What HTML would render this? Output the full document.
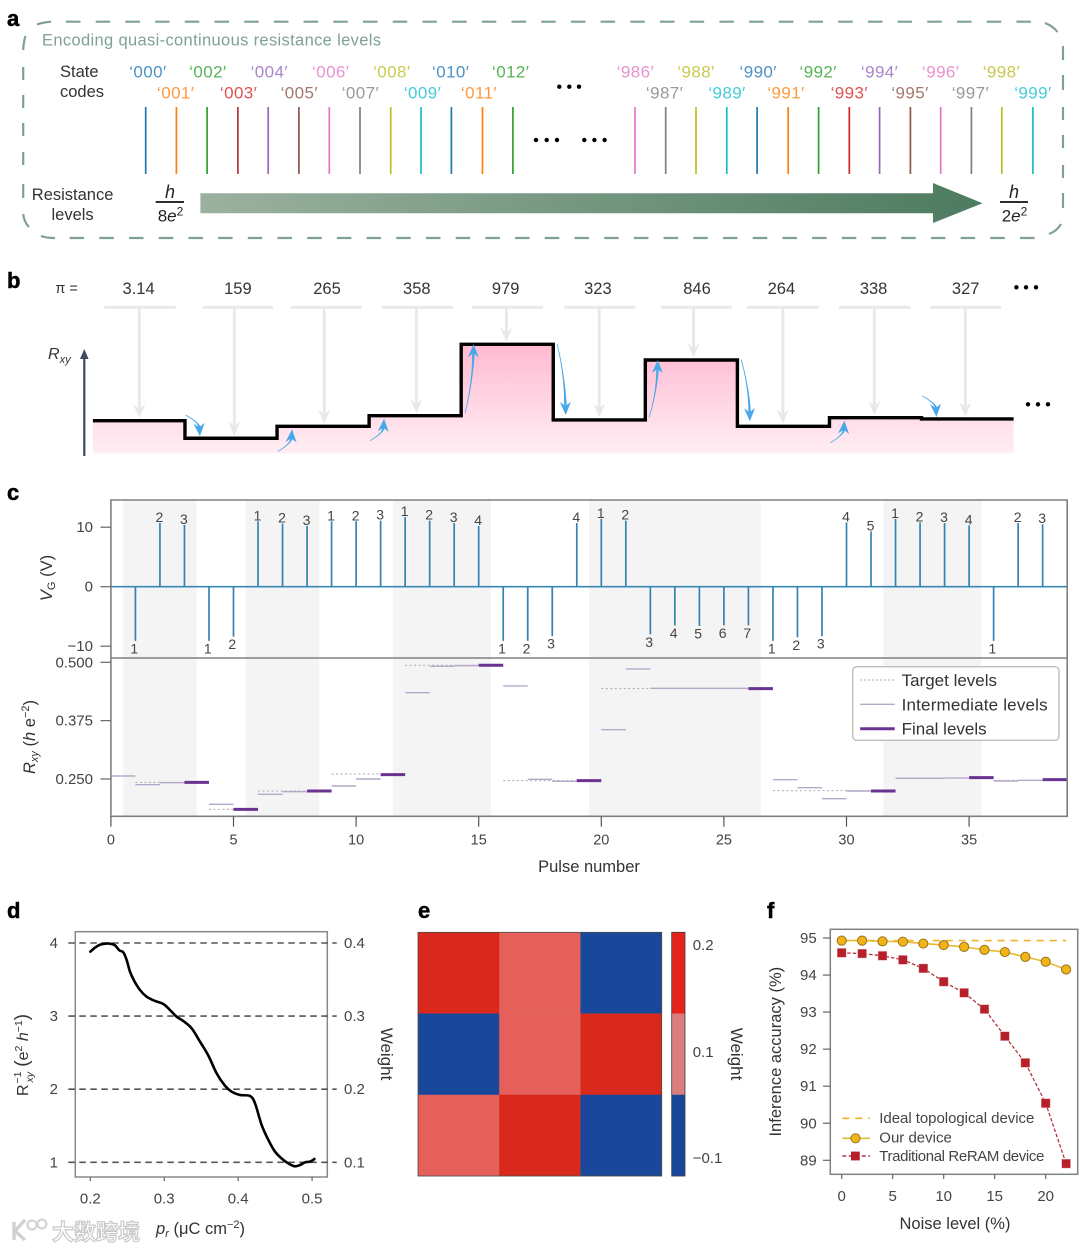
<!DOCTYPE html>
<html lang="en">
<head>
<meta charset="utf-8">
<title>Quasi-continuous resistance levels figure</title>
<style>
html,body{margin:0;padding:0;background:#fff;}
svg{display:block;font-family:"Liberation Sans","Noto Sans CJK SC",sans-serif;}
.pl{font-size:22px;font-weight:bold;fill:#000;stroke:#000;stroke-width:.5;}
.code{font-size:17px;text-anchor:middle;fill-opacity:.8;letter-spacing:.4px;}
.lab{font-size:16.5px;fill:#333;}
.num{font-size:16.5px;fill:#333;text-anchor:middle;}
</style>
</head>
<body>
<svg id="fig" xmlns="http://www.w3.org/2000/svg" width="1080" height="1251" viewBox="0 0 1080 1251">
<defs>
<linearGradient id="arrowGrad" x1="0" x2="1" y1="0" y2="0"><stop offset="0" stop-color="#9bb19f"/><stop offset="1" stop-color="#4d7b60"/></linearGradient>
<linearGradient id="pinkGrad" gradientUnits="userSpaceOnUse" x1="0" x2="0" y1="344" y2="453"><stop offset="0" stop-color="#ffb9d1"/><stop offset="1" stop-color="#ffeef4"/></linearGradient>
</defs>
<rect x="0" y="0" width="1080" height="1251" fill="#fff"/>

<!-- PANEL A -->
<g id="panelA">
<text class="pl" x="7" y="26">a</text>
<g fill="none" stroke="#7fa193" stroke-width="2.2">
<path d="M66 21.7H1031" stroke-dasharray="14.5 15.2"/>
<path d="M69.6 238H1036" stroke-dasharray="14.5 15.2"/>
<path d="M37 24.5Q42 22.5 51 21.7"/>
<path d="M23.2 50Q23.5 42 25.5 36"/>
<path d="M1045 23Q1053 26 1057.5 32"/>
<path d="M1061 224Q1057 231 1049 234"/>
<path d="M23.2 214Q24 222 29 227"/>
<path d="M41 236Q46 238 55 238"/>
<path d="M23.2 67V80M23.2 95V108M23.2 123V136M23.2 152V165M23.2 184V198"/>
<path d="M1063 46V60M1063 75V90M1063 107V120M1063 135V148M1063 165V178M1063 193V208"/>
</g>
<text x="42" y="45.5" font-size="16.5" fill="#7fa193" textLength="339">Encoding quasi-continuous resistance levels</text>
<text class="lab" x="60" y="77">State</text>
<text class="lab" x="60" y="97">codes</text>
<text class="lab" x="72.6" y="200" text-anchor="middle">Resistance</text>
<text class="lab" x="72.6" y="220" text-anchor="middle">levels</text>

<g class="codes">
<text class="code" x="147.9" y="77.5" fill="#1f77b4">‘000′</text>
<text class="code" x="175.7" y="98.5" fill="#ff7f0e">‘001′</text>
<text class="code" x="207.9" y="77.5" fill="#2ca02c">‘002′</text>
<text class="code" x="238.6" y="98.5" fill="#d62728">‘003′</text>
<text class="code" x="269.3" y="77.5" fill="#9467bd">‘004′</text>
<text class="code" x="299.3" y="98.5" fill="#8c564b">‘005′</text>
<text class="code" x="330.7" y="77.5" fill="#e377c2">‘006′</text>
<text class="code" x="360.4" y="98.5" fill="#7f7f7f">‘007′</text>
<text class="code" x="391.8" y="77.5" fill="#bcbd22">‘008′</text>
<text class="code" x="422.5" y="98.5" fill="#17becf">‘009′</text>
<text class="code" x="450.7" y="77.5" fill="#1f77b4">‘010′</text>
<text class="code" x="479" y="98.5" fill="#ff7f0e">‘011′</text>
<text class="code" x="510.7" y="77.5" fill="#2ca02c">‘012′</text>
<text class="code" x="635.4" y="77.5" fill="#e377c2">‘986′</text>
<text class="code" x="664.6" y="98.5" fill="#7f7f7f">‘987′</text>
<text class="code" x="696" y="77.5" fill="#bcbd22">‘988′</text>
<text class="code" x="727" y="98.5" fill="#17becf">‘989′</text>
<text class="code" x="758.2" y="77.5" fill="#1f77b4">‘990′</text>
<text class="code" x="786" y="98.5" fill="#ff7f0e">‘991′</text>
<text class="code" x="818.2" y="77.5" fill="#2ca02c">‘992′</text>
<text class="code" x="849.3" y="98.5" fill="#d62728">‘993′</text>
<text class="code" x="879.6" y="77.5" fill="#9467bd">‘994′</text>
<text class="code" x="910" y="98.5" fill="#8c564b">‘995′</text>
<text class="code" x="940.7" y="77.5" fill="#e377c2">‘996′</text>
<text class="code" x="970.4" y="98.5" fill="#7f7f7f">‘997′</text>
<text class="code" x="1001.4" y="77.5" fill="#bcbd22">‘998′</text>
<text class="code" x="1032.9" y="98.5" fill="#17becf">‘999′</text>
</g>

<g stroke-width="1.7">
<line x1="145.7" x2="145.7" y1="107" y2="174" stroke="#1f77b4"/>
<line x1="176.4" x2="176.4" y1="107" y2="174" stroke="#ff7f0e"/>
<line x1="207.1" x2="207.1" y1="107" y2="174" stroke="#2ca02c"/>
<line x1="237.9" x2="237.9" y1="107" y2="174" stroke="#b5353a"/>
<line x1="268.2" x2="268.2" y1="107" y2="174" stroke="#9467bd"/>
<line x1="298.9" x2="298.9" y1="107" y2="174" stroke="#8c564b"/>
<line x1="329.3" x2="329.3" y1="107" y2="174" stroke="#e377c2"/>
<line x1="360" x2="360" y1="107" y2="174" stroke="#7f7f7f"/>
<line x1="390.7" x2="390.7" y1="107" y2="174" stroke="#bcbd22"/>
<line x1="421" x2="421" y1="107" y2="174" stroke="#17becf"/>
<line x1="451.4" x2="451.4" y1="107" y2="174" stroke="#1f77b4"/>
<line x1="482.5" x2="482.5" y1="107" y2="174" stroke="#ff7f0e"/>
<line x1="512.9" x2="512.9" y1="107" y2="174" stroke="#2ca02c"/>
<line x1="635" x2="635" y1="107" y2="174" stroke="#e377c2"/>
<line x1="665.7" x2="665.7" y1="107" y2="174" stroke="#7f7f7f"/>
<line x1="696" x2="696" y1="107" y2="174" stroke="#bcbd22"/>
<line x1="726.8" x2="726.8" y1="107" y2="174" stroke="#17becf"/>
<line x1="757.1" x2="757.1" y1="107" y2="174" stroke="#1f77b4"/>
<line x1="788.2" x2="788.2" y1="107" y2="174" stroke="#ff7f0e"/>
<line x1="818.6" x2="818.6" y1="107" y2="174" stroke="#2ca02c"/>
<line x1="849.3" x2="849.3" y1="107" y2="174" stroke="#d62728"/>
<line x1="879.6" x2="879.6" y1="107" y2="174" stroke="#9467bd"/>
<line x1="910.4" x2="910.4" y1="107" y2="174" stroke="#8c564b"/>
<line x1="940.7" x2="940.7" y1="107" y2="174" stroke="#e377c2"/>
<line x1="971.4" x2="971.4" y1="107" y2="174" stroke="#7f7f7f"/>
<line x1="1001.8" x2="1001.8" y1="107" y2="174" stroke="#bcbd22"/>
<line x1="1032.9" x2="1032.9" y1="107" y2="174" stroke="#17becf"/>
</g>

<g fill="#000">
<circle cx="559.3" cy="86.7" r="2.2"/><circle cx="569.3" cy="86.7" r="2.2"/><circle cx="579" cy="86.7" r="2.2"/>
<circle cx="536" cy="140" r="2.2"/><circle cx="546.7" cy="140" r="2.2"/><circle cx="557" cy="140" r="2.2"/>
<circle cx="584.3" cy="140" r="2.2"/><circle cx="594.4" cy="140" r="2.2"/><circle cx="604.6" cy="140" r="2.2"/>
</g>
<path d="M200.4 193.3H933V183L982.5 203.3L933 223V213.3H200.4Z" fill="url(#arrowGrad)"/>
<text x="170" y="198" font-size="18" font-style="italic" text-anchor="middle" fill="#222">h</text>
<line x1="155.7" x2="184" y1="202" y2="202" stroke="#111" stroke-width="1.8"/>
<text x="170.5" y="221.5" font-size="17" text-anchor="middle" fill="#222">8<tspan font-style="italic">e</tspan><tspan font-size="12" dy="-6">2</tspan></text>
<text x="1014" y="198" font-size="18" font-style="italic" text-anchor="middle" fill="#222">h</text>
<line x1="1000" x2="1028" y1="202" y2="202" stroke="#111" stroke-width="1.8"/>
<text x="1014.5" y="221.5" font-size="17" text-anchor="middle" fill="#222">2<tspan font-style="italic">e</tspan><tspan font-size="12" dy="-6">2</tspan></text>
</g>

<!-- PANEL B -->
<g id="panelB">
<text class="pl" x="7" y="288">b</text>
<text x="55.4" y="293" font-size="14.5" fill="#333">π =</text>
<text class="num" x="138.6" y="294">3.14</text>
<text class="num" x="237.9" y="294">159</text>
<text class="num" x="327" y="294">265</text>
<text class="num" x="416.8" y="294">358</text>
<text class="num" x="505.7" y="294">979</text>
<text class="num" x="597.9" y="294">323</text>
<text class="num" x="697" y="294">846</text>
<text class="num" x="781.4" y="294">264</text>
<text class="num" x="873.6" y="294">338</text>
<text class="num" x="965.7" y="294">327</text>
<path d="M104.3 307.3H175.7M202.5 307.3H273.2M290.4 307.3H361.8M382 307.3H452.9M471.8 307.3H542.9M564 307.3H635.4M661 307.3H731.8M747 307.3H818.6M839 307.3H910.4M930 307.3H1001.4" stroke="#e9e9e9" stroke-width="2.8" fill="none"/>
<g id="stepArea"></g>
<line x1="84.3" x2="84.3" y1="456" y2="356" stroke="#3e4a5e" stroke-width="2.2"/>
<path d="M84.3 349L80 359H88.6Z" fill="#3e4a5e"/>
<text x="48" y="359" font-size="16" font-style="italic" fill="#333">R<tspan font-size="11" dy="4">xy</tspan></text>
<g fill="#000">
<circle cx="1016.4" cy="287.3" r="2.2"/><circle cx="1026" cy="287.3" r="2.2"/><circle cx="1036" cy="287.3" r="2.2"/>
<circle cx="1028" cy="404.3" r="2.2"/><circle cx="1038" cy="404.3" r="2.2"/><circle cx="1048" cy="404.3" r="2.2"/>
</g>
</g>

<!-- PANEL C -->
<g id="panelC">
<text class="pl" x="7" y="500">c</text>
<g id="cBands"></g>
<g id="cMarks"></g>
<path d="M110.9 500H1067.2V816.3H110.9Z" fill="none" stroke="#808080" stroke-width="1.6"/>
<line x1="110.9" x2="1067.2" y1="658" y2="658" stroke="#808080" stroke-width="1.6"/>
<g id="cAxes"></g>
<text transform="translate(52,578) rotate(-90)" font-size="16.5" text-anchor="middle" fill="#333"><tspan font-style="italic">V</tspan><tspan font-size="11" dy="3">G</tspan><tspan dy="-3"> (V)</tspan></text>
<text transform="translate(35,737) rotate(-90)" font-size="16.5" text-anchor="middle" fill="#333"><tspan font-style="italic">R</tspan><tspan font-size="11" font-style="italic" dy="3">xy</tspan><tspan dy="-3"> (</tspan><tspan font-style="italic">h</tspan> e<tspan font-size="11" dy="-6">−2</tspan><tspan dy="6">)</tspan></text>
<text x="589" y="872" font-size="16.5" text-anchor="middle" fill="#333">Pulse number</text>
<g>
<rect x="852.7" y="666.7" width="206.3" height="73.6" rx="4" fill="#fff" stroke="#bdbdbd" stroke-width="1.4"/>
<line x1="860.2" x2="894.7" y1="680" y2="680" stroke="#a9a9b0" stroke-width="1" stroke-dasharray="2 2"/>
<line x1="860.2" x2="894.7" y1="704.3" y2="704.3" stroke="#b3a9c9" stroke-width="1.4"/>
<line x1="860.2" x2="894.7" y1="728.7" y2="728.7" stroke="#6a3291" stroke-width="3"/>
<text x="901.6" y="686" font-size="17" fill="#333">Target levels</text>
<text x="901.6" y="710.3" font-size="17" fill="#333" textLength="146">Intermediate levels</text>
<text x="901.6" y="734.7" font-size="17" fill="#333">Final levels</text>
</g>
</g>

<!-- PANEL D -->
<g id="panelD">
<text class="pl" x="7" y="918">d</text>
<rect x="75.3" y="931.7" width="252" height="245.3" fill="none" stroke="#888" stroke-width="1.5"/>
<g id="dAxes"></g>
<path id="dCurve" fill="none" stroke="#000" stroke-width="2.6" stroke-linejoin="round" stroke-linecap="round"/>
<text transform="translate(28,1055) rotate(-90)" font-size="16" text-anchor="middle" fill="#333">R<tspan font-size="10.5" dx="1" dy="-7">−1</tspan><tspan font-size="10.5" font-style="italic" dx="-11" dy="12">xy</tspan><tspan dy="-5" font-size="19"> (</tspan>e<tspan font-size="10.5" dy="-6">2</tspan><tspan dy="6" font-style="italic"> h</tspan><tspan font-size="10.5" dy="-6">−1</tspan><tspan dy="6" font-size="19">)</tspan></text>
<text transform="translate(381,1054) rotate(90)" font-size="17" text-anchor="middle" fill="#333">Weight</text>
<text x="156" y="1234" font-size="16.5" fill="#333"><tspan font-style="italic">p</tspan><tspan font-size="11" font-style="italic" dy="3">r</tspan><tspan dy="-3"> (μC cm</tspan><tspan font-size="11" dy="-6">−2</tspan><tspan dy="6">)</tspan></text>
<g opacity=".8">
<path d="M14 1222V1240M25 1220L15 1231L25 1240" fill="none" stroke="#c6c6c6" stroke-width="3.4"/>
<circle cx="32" cy="1225" r="4.5" fill="none" stroke="#c6c6c6" stroke-width="2"/>
<circle cx="42" cy="1224" r="4.5" fill="none" stroke="#c6c6c6" stroke-width="2"/>
<text x="52" y="1240" font-size="22" font-weight="bold" fill="#fff" stroke="#bdbdbd" stroke-width="1.2">大数跨境</text>
</g>
</g>

<!-- PANEL E -->
<g id="panelE">
<text class="pl" x="418" y="918">e</text>
<g id="eCells"></g>
<rect x="418" y="932.3" width="243.7" height="243.7" fill="none" stroke="#4a4a4a" stroke-width=".8"/>
<g id="eBar"></g>
<rect x="671.7" y="932.3" width="13.3" height="243.7" fill="none" stroke="#3a3a4a" stroke-width=".8"/>
<text transform="translate(731,1054) rotate(90)" font-size="17" text-anchor="middle" fill="#333">Weight</text>
</g>

<!-- PANEL F -->
<g id="panelF">
<text class="pl" x="767" y="918">f</text>
<rect x="830.3" y="929.3" width="247.4" height="245" fill="none" stroke="#808080" stroke-width="1.5"/>
<g id="fAxes"></g>
<g id="fSeries"></g>
<g>
<line x1="842.3" x2="870" y1="1118.3" y2="1118.3" stroke="#f0b323" stroke-width="1.6" stroke-dasharray="7 6"/>
<line x1="842.3" x2="870" y1="1138.3" y2="1138.3" stroke="#e8b830" stroke-width="1.6"/>
<circle cx="855.5" cy="1138.3" r="4.6" fill="#f1b317" stroke="#96761c" stroke-width="1"/>
<line x1="842.3" x2="870" y1="1156" y2="1156" stroke="#b5333a" stroke-width="1.4" stroke-dasharray="4 2.5"/>
<rect x="851" y="1151.6" width="8.8" height="8.8" fill="#b5202a"/>
<text x="879.3" y="1123" font-size="15" fill="#444" textLength="155">Ideal topological device</text>
<text x="879.3" y="1142.5" font-size="15" fill="#444">Our device</text>
<text x="879.3" y="1161" font-size="15" fill="#444" textLength="165">Traditional ReRAM device</text>
</g>
<text transform="translate(781,1051.7) rotate(-90)" font-size="16.5" text-anchor="middle" fill="#333">Inference accuracy (%)</text>
<text x="955" y="1229" font-size="16.5" text-anchor="middle" fill="#333">Noise level (%)</text>
</g>
</svg>

<script>
// ---------- Panel b data ----------
const stepLevels = [0.299, 0.138, 0.248, 0.345, 1.0, 0.306, 0.856, 0.248, 0.327, 0.315];
const arrowSteps = [0.504, 1.536, 2.513, 3.514, 4.491, 5.5, 6.524, 7.494, 8.487, 9.476];

// ---------- Panel c data ----------
const pulseNumbers = [1,2,3,4,5,6,7,8,9,10,11,12,13,14,15,16,17,18,19,20,21,22,23,24,25,26,27,28,29,30,31,32,33,34,35,36,37,38];
const pulseVoltages = [-9.1,10.7,10.4,-9.1,-8.4,11,10.6,10.2,11,11,11.1,11.7,11.1,10.7,10.2,-9.1,-9.1,-8.3,10.7,11.4,11.1,-8,-6.5,-6.6,-6.5,-6.5,-9.1,-8.5,-8.3,10.8,9.3,11.4,10.8,10.7,10.3,-9.1,10.7,10.5];
const pulseLabels = ['1','2','3','1','2','1','2','3','1','2','3','1','2','3','4','1','2','3','4','1','2','3','4','5','6','7','1','2','3','4','5','1','2','3','4','1','2','3'];
const bandStarts = [0.5, 5.5, 11.5, 19.5, 31.5];
const bandEnds = [3.5, 8.5, 15.5, 26.5, 35.5];
const intermediatePulses = [0,1,2,4,6,7,9,10,12,13,14,16,17,18,20,21,22,23,24,25,27,28,29,30,32,33,34,36,37];
const intermediateValues = [0.2564,0.2379,0.2421,0.1957,0.2171,0.2229,0.235,0.25,0.435,0.4914,0.4929,0.4493,0.2493,0.245,0.3557,0.4857,0.4443,0.4443,0.4443,0.4443,0.2486,0.2314,0.2079,0.2243,0.2514,0.2514,0.2521,0.2457,0.2471];
const finalPulses = [3,5,8,11,15,19,26,31,35,38];
const finalValues = [0.2429,0.185,0.2243,0.2593,0.4936,0.2464,0.4436,0.2243,0.2529,0.2486];
const targetStarts = [1,4,6,9,12,16,20,27,32,36];
const targetEnds = [3,5,8,11,15,19,26,31,35,38];
const targetValues = [0.2429,0.185,0.2243,0.2607,0.4936,0.2464,0.4436,0.2250,0.2521,0.2471];
const vgTicks = [10,0,-10];
const vgTickLabels = ['10','0','−10'];
const rxyTicks = [0.5,0.375,0.25];
const rxyTickLabels = ['0.500','0.375','0.250'];
const pulseTicks = [0,5,10,15,20,25,30,35];

// ---------- Panel d data ----------
const polarization = [0.2,0.2063,0.2131,0.2198,0.2266,0.2334,0.2392,0.2447,0.2492,0.2537,0.2595,0.2672,0.2762,0.2875,0.2988,0.3078,0.3168,0.3258,0.3371,0.3484,0.3597,0.3709,0.3822,0.3912,0.4025,0.4161,0.4228,0.4318,0.4409,0.4499,0.4612,0.4702,0.4769,0.4837,0.4905,0.4973,0.5031];
const inverseRxy = [3.881,3.936,3.977,3.991,3.991,3.968,3.9,3.872,3.767,3.608,3.48,3.357,3.266,3.207,3.166,3.083,2.992,2.933,2.833,2.65,2.459,2.217,2.048,1.966,1.921,1.907,1.807,1.51,1.305,1.145,1.031,0.972,0.945,0.963,1.0,1.009,1.045];
const dYTicks = [4,3,2,1];
const dWeightLabels = ['0.4','0.3','0.2','0.1'];
const dXTicks = [0.2,0.3,0.4,0.5];
const dXLabels = ['0.2','0.3','0.4','0.5'];

// ---------- Panel e data ----------
const weightRow1 = [0.2,0.1,-0.1];
const weightRow2 = [-0.1,0.1,0.2];
const weightRow3 = [0.1,0.2,-0.1];
const colorbarLevels = [0.2,0.1,-0.1];
const colorbarLabels = ['0.2','0.1','−0.1'];

// ---------- Panel f data ----------
const noiseLevels = [0,2,4,6,8,10,12,14,16,18,20,22];
const ourDeviceAcc = [94.93,94.93,94.91,94.90,94.85,94.81,94.76,94.68,94.62,94.49,94.36,94.15];
const reramAcc = [94.6,94.58,94.52,94.41,94.18,93.82,93.52,93.08,92.35,91.63,90.54,88.91];
const idealAcc = [94.93,94.93];
const idealNoise = [0,22];
const fYTicks = [95,94,93,92,91,90,89];
const fXTicks = [0,5,10,15,20];

// ---------- Helpers ----------
const NS = 'http://www.w3.org/2000/svg';
function mk(tag, attrs, parent){
  const n = document.createElementNS(NS, tag);
  for (const k in attrs) n.setAttribute(k, attrs[k]);
  parent.appendChild(n);
  return n;
}
function smoothPath(pts){
  let d = 'M' + pts[0][0] + ' ' + pts[0][1];
  for (let i = 0; i < pts.length - 1; i++){
    const p0 = pts[Math.max(i-1,0)], p1 = pts[i], p2 = pts[i+1], p3 = pts[Math.min(i+2,pts.length-1)];
    const c1x = p1[0] + (p2[0]-p0[0])/6, c1y = p1[1] + (p2[1]-p0[1])/6;
    const c2x = p2[0] - (p3[0]-p1[0])/6, c2y = p2[1] - (p3[1]-p1[1])/6;
    d += 'C' + c1x + ' ' + c1y + ' ' + c2x + ' ' + c2y + ' ' + p2[0] + ' ' + p2[1];
  }
  return d;
}

// ---------- Panel b drawing ----------
const xB = s => 92.9 + s * 92.07;
const yB = v => 453.3 - v * 109;
const stepArea = document.getElementById('stepArea');
let fillD = 'M' + xB(0) + ' 453.3';
let lineD = '';
stepLevels.forEach((v,i) => {
  fillD += 'L' + xB(i) + ' ' + yB(v) + 'L' + xB(i+1) + ' ' + yB(v);
  lineD += (i ? 'L' : 'M') + xB(i) + ' ' + yB(v) + 'L' + xB(i+1) + ' ' + yB(v);
});
fillD += 'L' + xB(stepLevels.length) + ' 453.3Z';
const stepFill = mk('path',{d:fillD,fill:'url(#pinkGrad)'},stepArea);


arrowSteps.forEach((s,i) => {
  const x = xB(s), tip = yB(stepLevels[i]) - 2.5;
  const shaft = mk('line',{x1:x,x2:x,y1:307,y2:tip-6,stroke:'#e8e8e8','stroke-width':2.8},stepArea);
  
  
  const head = mk('path',{d:'M'+x+' '+tip+'L'+(x-6)+' '+(tip-14)+'L'+x+' '+(tip-9.5)+'L'+(x+6)+' '+(tip-14)+'Z',fill:'#e8e8e8'},stepArea);
  
  
});
const stepLine = mk('path',{d:lineD,fill:'none',stroke:'#000','stroke-width':3.4,'stroke-linejoin':'miter'},stepArea);


for (let i = 1; i < stepLevels.length; i++){
  const prev = yB(stepLevels[i-1]), next = yB(stepLevels[i]), e = xB(i);
  const big = Math.abs(next-prev) > 30, up = next < prev;
  let sy, ey;
  if (up){ sy = big ? prev-3 : next+25; ey = next + (big ? 0 : 3); }
  else { sy = big ? prev : next-23; ey = next - (big ? 5 : 2); }
  const sx = e + (big ? 4 : 1), ex = e + (big ? 12.5 : 15);
  const cx = ex - 1;
  const cy = sy + (ey - sy) * (big ? 0.45 : 0.35);
  const ang = Math.atan2(ey-cy, ex-cx);
  const hx = Math.cos(ang), hy = Math.sin(ang);
  const neckX = ex - hx*9, neckY = ey - hy*9;
  const wx = -hy*0.9, wy = hx*0.9;
  const curve = mk('path',{d:'M'+sx+' '+sy+'Q'+cx+' '+cy+' '+(neckX+wx)+' '+(neckY+wy)+'L'+(neckX-wx)+' '+(neckY-wy)+'Q'+cx+' '+cy+' '+sx+' '+sy+'Z',fill:'#4aa8ea',stroke:'#4aa8ea','stroke-width':0.8,'stroke-linejoin':'round'},stepArea);
  
  
  const L = 13, W = 5.5, N = 9;
  const p1 = (ex-hx*L-hy*W)+' '+(ey-hy*L+hx*W);
  const p2 = (ex-hx*N)+' '+(ey-hy*N);
  const p3 = (ex-hx*L+hy*W)+' '+(ey-hy*L-hx*W);
  const ah = mk('path',{d:'M'+ex+' '+ey+'L'+p1+'L'+p2+'L'+p3+'Z',fill:'#4aa8ea'},stepArea);
  
  
}

// ---------- Panel c drawing ----------
const xC = p => 110.9 + p * 24.52;
const yV = v => 586.7 - v * 5.95;
const yR = r => 779 - (r - 0.25) * 466.8;
const cBands = document.getElementById('cBands');
const cMarks = document.getElementById('cMarks');
const cAxes = document.getElementById('cAxes');
bandStarts.forEach((s,i) => {
  const b = mk('rect',{x:xC(s),y:500,width:xC(bandEnds[i])-xC(s),height:316.3,fill:'#f4f4f5'},cBands);
  
  
});
const zero = mk('line',{x1:xC(0),x2:xC(39),y1:yV(0),y2:yV(0),stroke:'#3a86b5','stroke-width':1.6},cMarks);


pulseNumbers.forEach((n,i) => {
  const v = pulseVoltages[i];
  const stem = mk('line',{x1:xC(n),x2:xC(n),y1:yV(0),y2:yV(v),stroke:'#3583b2','stroke-width':1.7},cMarks);
  
  
  const t = mk('text',{x:xC(n)-(v<0?1.2:0.5),y:yV(v)+(v>0?-1:12.5),'font-size':14,'text-anchor':'middle',fill:'#444'},cMarks);
  t.textContent = pulseLabels[i];
  
  
});
targetStarts.forEach((s,i) => {
  const l = mk('line',{x1:xC(s),x2:xC(targetEnds[i]),y1:yR(targetValues[i]),y2:yR(targetValues[i]),stroke:'#a9a9b0','stroke-width':1,'stroke-dasharray':'2 2.5'},cMarks);
  
  
});
intermediatePulses.forEach((p,i) => {
  const l = mk('line',{x1:xC(p),x2:xC(p+1),y1:yR(intermediateValues[i]),y2:yR(intermediateValues[i]),stroke:'#b3a9c9','stroke-width':1.4},cMarks);
  
  
});
finalPulses.forEach((p,i) => {
  const l = mk('line',{x1:xC(p),x2:xC(p+1),y1:yR(finalValues[i]),y2:yR(finalValues[i]),stroke:'#6a3291','stroke-width':3},cMarks);
  
  
});
vgTicks.forEach((v,i) => {
  const tk = mk('line',{x1:100.5,x2:110.9,y1:yV(v),y2:yV(v),stroke:'#666','stroke-width':1.2},cAxes);
  
  
  const t = mk('text',{x:93,y:yV(v)+5,'font-size':15,'text-anchor':'end',fill:'#444'},cAxes);
  t.textContent = vgTickLabels[i];
  
  
});
rxyTicks.forEach((r,i) => {
  const tk = mk('line',{x1:100.5,x2:110.9,y1:yR(r),y2:yR(r),stroke:'#666','stroke-width':1.2},cAxes);
  
  
  const t = mk('text',{x:93,y:yR(r)+5,'font-size':15,'text-anchor':'end',fill:'#444'},cAxes);
  t.textContent = rxyTickLabels[i];
  
  
});
pulseTicks.forEach(p => {
  const tk = mk('line',{x1:xC(p),x2:xC(p),y1:816.3,y2:826.7,stroke:'#555','stroke-width':1.2},cAxes);
  
  
  const t = mk('text',{x:xC(p),y:844.5,'font-size':14.5,'text-anchor':'middle',fill:'#444'},cAxes);
  t.textContent = String(p);
  
  
});

// ---------- Panel d drawing ----------
const xD = p => 90.3 + (p - 0.2) * 739.3;
const yD = r => 1162.3 - (r - 1) * 73.1;
const dAxes = document.getElementById('dAxes');
dYTicks.forEach((r,i) => {
  const g = mk('line',{x1:68.3,x2:336.7,y1:yD(r),y2:yD(r),stroke:'#555','stroke-width':1.6,'stroke-dasharray':'6.5 4.5'},dAxes);
  
  
  const l = mk('text',{x:58,y:yD(r)+5,'font-size':15,'text-anchor':'end',fill:'#444'},dAxes);
  l.textContent = String(r);
  
  
  const w = mk('text',{x:344,y:yD(r)+5,'font-size':15,fill:'#444'},dAxes);
  w.textContent = dWeightLabels[i];
  
  
});
dXTicks.forEach((p,i) => {
  const tk = mk('line',{x1:xD(p),x2:xD(p),y1:1177,y2:1181,stroke:'#666','stroke-width':1.2},dAxes);
  
  
  const t = mk('text',{x:xD(p),y:1203.5,'font-size':15,'text-anchor':'middle',fill:'#444'},dAxes);
  t.textContent = dXLabels[i];
  
  
});
document.getElementById('dCurve').setAttribute('d', smoothPath(polarization.map((p,i) => [xD(p), yD(inverseRxy[i])])));

// ---------- Panel e drawing ----------
const eCells = document.getElementById('eCells');
const eBar = document.getElementById('eBar');
const cellColor = v => v > 0.15 ? '#d9291c' : (v > 0 ? '#e5605a' : '#19489a');
const barColor = v => v > 0.15 ? '#e5231b' : (v > 0 ? '#da7e7c' : '#18479a');
const xE = c => 418 + c * 81.23;
const yE = r => 932.3 + r * 81.23;
[weightRow1, weightRow2, weightRow3].forEach((row,r) => {
  row.forEach((v,c) => {
    const cell = mk('rect',{x:xE(c),y:yE(r),width:81.5,height:81.5,fill:cellColor(v)},eCells);
    
    
  });
});
colorbarLevels.forEach((v,i) => {
  const seg = mk('rect',{x:671.7,y:yE(i),width:13.3,height:81.5,fill:barColor(v)},eBar);
  
  
  const t = mk('text',{x:692.7,y:yE(i) + 40.6 + (v > 0.15 ? -23 : (v > 0 ? 3 : 27.5)),'font-size':15,fill:'#444'},eBar);
  t.textContent = colorbarLabels[i];
  
  
});

// ---------- Panel f drawing ----------
const xF = n => 841.7 + n * 10.2;
const yF = a => 938 + (95 - a) * 37.05;
const fAxes = document.getElementById('fAxes');
const fSeries = document.getElementById('fSeries');
fYTicks.forEach(a => {
  const tk = mk('line',{x1:823,x2:830.3,y1:yF(a),y2:yF(a),stroke:'#666','stroke-width':1.2},fAxes);
  
  
  const t = mk('text',{x:816.7,y:yF(a)+5,'font-size':15,'text-anchor':'end',fill:'#444'},fAxes);
  t.textContent = String(a);
  
  
});
fXTicks.forEach(n => {
  const tk = mk('line',{x1:xF(n),x2:xF(n),y1:1174.3,y2:1179,stroke:'#666','stroke-width':1.2},fAxes);
  
  
  const t = mk('text',{x:xF(n),y:1201,'font-size':15,'text-anchor':'middle',fill:'#444'},fAxes);
  t.textContent = String(n);
  
  
});
const ideal = mk('line',{x1:xF(idealNoise[0]),x2:xF(idealNoise[1]),y1:yF(idealAcc[0]),y2:yF(idealAcc[1]),stroke:'#f0b323','stroke-width':1.6,'stroke-dasharray':'7 6'},fSeries);


const ourLine = mk('polyline',{points:noiseLevels.map((n,i) => xF(n)+','+yF(ourDeviceAcc[i])).join(' '),fill:'none',stroke:'#e8b830','stroke-width':1.6},fSeries);


const reLine = mk('polyline',{points:noiseLevels.map((n,i) => xF(n)+','+yF(reramAcc[i])).join(' '),fill:'none',stroke:'#b5333a','stroke-width':1.3,'stroke-dasharray':'3.5 2'},fSeries);


noiseLevels.forEach((n,i) => {
  const c = mk('circle',{cx:xF(n),cy:yF(ourDeviceAcc[i]),r:4.6,fill:'#f1b317',stroke:'#96761c','stroke-width':1},fSeries);
  
  
  const s = mk('rect',{x:xF(n)-4.4,y:yF(reramAcc[i])-4.4,width:8.8,height:8.8,fill:'#b5202a',stroke:'#e79aa0','stroke-width':.4},fSeries);
  
  
});
</script>
</body>
</html>
